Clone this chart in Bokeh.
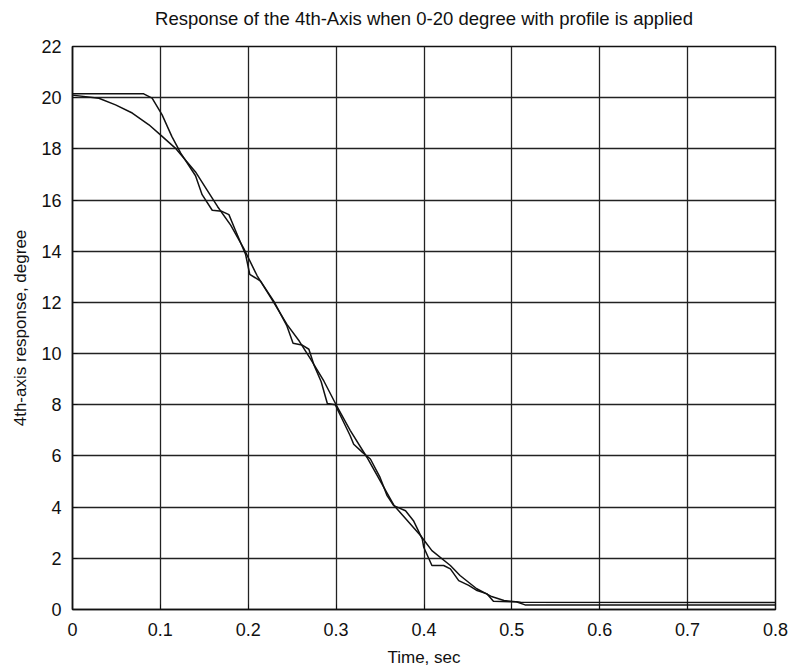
from bokeh.plotting import figure
from bokeh.models import Range1d, FixedTicker, Title
from bokeh.embed import file_html
from bokeh.resources import INLINE

# Profile (smooth reference trajectory)
profile_t = [0.0, 0.03, 0.049, 0.068, 0.087, 0.102, 0.117, 0.14, 0.153, 0.165, 0.18,
             0.195, 0.21, 0.229, 0.244, 0.258, 0.271, 0.286, 0.3, 0.316, 0.335,
             0.366, 0.396, 0.409, 0.43, 0.441, 0.46, 0.476, 0.491, 0.51, 0.8]
profile_y = [20.1, 19.98, 19.72, 19.4, 18.94, 18.49, 18.03, 17.1, 16.4, 15.75, 15.02,
             14.1, 13.05, 12.0, 11.14, 10.49, 9.78, 8.93, 8.0, 7.0, 5.95,
             4.06, 2.89, 2.3, 1.72, 1.33, 0.81, 0.52, 0.35, 0.28, 0.27]

# Stepped (sampled) axis response
resp_t = [0.0, 0.081, 0.0906, 0.102, 0.113, 0.123, 0.14, 0.1475, 0.159, 0.17, 0.178,
          0.185, 0.197, 0.2017, 0.214, 0.229, 0.244, 0.251, 0.261, 0.269, 0.2745,
          0.283, 0.29, 0.299, 0.316, 0.32, 0.33, 0.339, 0.35, 0.358, 0.3655, 0.379,
          0.388, 0.398, 0.3997, 0.409, 0.4224, 0.43, 0.4395, 0.4509, 0.4604, 0.4718,
          0.479, 0.505, 0.515, 0.8]
resp_y = [20.15, 20.15, 19.98, 19.33, 18.49, 17.84, 16.95, 16.21, 15.6, 15.56, 15.43,
          14.85, 13.87, 13.1, 12.83, 12.05, 11.08, 10.4, 10.34, 10.17, 9.58,
          8.9, 8.05, 8.0, 6.79, 6.46, 6.14, 5.88, 5.16, 4.45, 4.06, 3.86,
          3.47, 2.76, 2.43, 1.72, 1.72, 1.59, 1.13, 0.94, 0.74, 0.61,
          0.32, 0.3, 0.18, 0.18]

x_ticks = [0.0, 0.1, 0.2, 0.3, 0.4, 0.5, 0.6, 0.7, 0.8]
x_tick_labels = ["0", "0.1", "0.2", "0.3", "0.4", "0.5", "0.6", "0.7", "0.8"]
y_ticks = [0, 2, 4, 6, 8, 10, 12, 14, 16, 18, 20, 22]
title_text = "Response of the 4th-Axis when 0-20 degree with profile is applied"

FONT = "Liberation Sans"

p = figure(width=792, height=671, output_backend="svg", toolbar_location=None,
           x_range=Range1d(0, 0.8), y_range=Range1d(0, 22),
           min_border_left=72, min_border_right=17, min_border_top=45, min_border_bottom=62,
           title=title_text)

p.title.align = "center"
p.title.text_font = FONT
p.title.text_font_size = "18.5px"
p.title.text_font_style = "normal"
p.title.text_color = "#111111"

# small empty spacer between the title and the frame
p.add_layout(Title(text=" ", text_font_size="1px"), "above")

p.line(profile_t, profile_y, line_color="#111111", line_width=1.5)
p.line(resp_t, resp_y, line_color="#111111", line_width=1.5)

p.xaxis.ticker = FixedTicker(ticks=x_ticks)
p.xaxis.major_label_overrides = {t: l for t, l in zip(x_ticks, x_tick_labels)}
p.yaxis.ticker = FixedTicker(ticks=y_ticks)

for ax in (p.xaxis, p.yaxis):
    ax.major_label_text_font = FONT
    ax.major_label_text_font_size = "18px"
    ax.major_label_text_color = "#111111"
    ax.axis_label_text_font = FONT
    ax.axis_label_text_font_size = "17px"
    ax.axis_label_text_font_style = "normal"
    ax.axis_label_text_color = "#111111"
    ax.major_tick_in = 5
    ax.major_tick_out = 0
    ax.minor_tick_line_color = None
    ax.axis_line_color = "#111111"
    ax.axis_line_width = 1.5
    ax.major_tick_line_color = "#111111"

p.xaxis.axis_label = "Time, sec"
p.yaxis.axis_label = "4th-axis response, degree"
p.xaxis.major_label_standoff = 13
p.xaxis.axis_label_standoff = 9
p.yaxis.major_label_standoff = 11
p.yaxis.axis_label_standoff = 8

p.grid.grid_line_color = "#222222"
p.grid.grid_line_width = 1.3
p.grid.grid_line_alpha = 1.0
p.outline_line_color = "#111111"
p.outline_line_width = 1.5
p.background_fill_color = "white"
p.border_fill_color = "white"

open("out.html", "w").write(file_html(p, INLINE))
